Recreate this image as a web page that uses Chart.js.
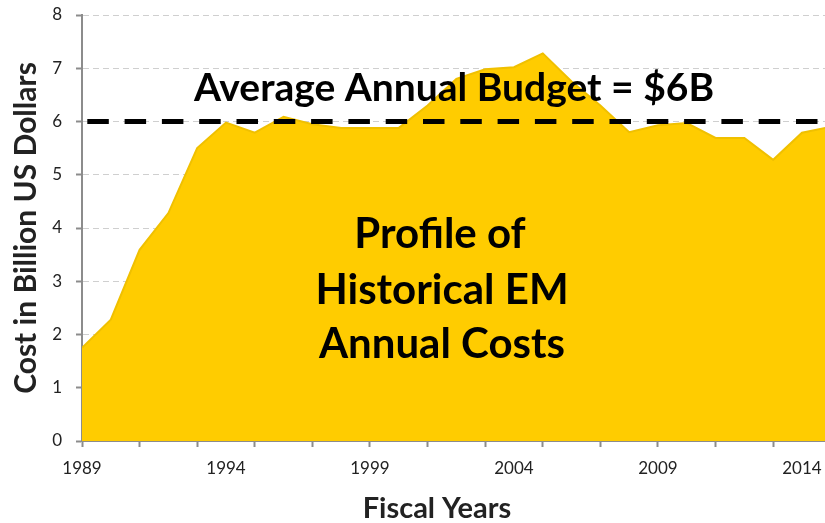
<!DOCTYPE html>
<html>
<head>
<meta charset="utf-8">
<script src="https://cdn.jsdelivr.net/npm/chart.js@4.4.1/dist/chart.umd.min.js"></script>
<style>
  html, body { margin: 0; padding: 0; background: #fff; }
  #wrap { width: 825px; height: 523px; }
</style>
</head>
<body>
<div id="wrap"><canvas id="em-chart" width="825" height="523"></canvas></div>
<script>
const years = [1989, 1990, 1991, 1992, 1993, 1994, 1995, 1996, 1997, 1998, 1999, 2000, 2001, 2002,
  2003, 2004, 2005, 2006, 2007, 2008, 2009, 2010, 2011, 2012, 2013, 2014, 2015];
const costs = [1.75, 2.28, 3.59, 4.28, 5.50, 5.98, 5.79, 6.09, 5.95, 5.88, 5.88, 5.88, 6.30, 6.80,
  6.98, 7.02, 7.28, 6.75, 6.30, 5.80, 5.93, 5.97, 5.69, 5.69, 5.28, 5.79, 5.90];
const averageBudget = 6;
const yTicks = [0, 1, 2, 3, 4, 5, 6, 7, 8];
const xLabelYears = [1989, 1994, 1999, 2004, 2009, 2014];

const FONT = 'Lato, "Open Sans", sans-serif';

// textos dentro do gráfico + título do eixo x (um pouco à esquerda do centro, como no original)
const notesPlugin = {
  id: 'notes',
  afterDraw(chart) {
    const c = chart.ctx;
    c.save();
    c.fillStyle = '#000';
    c.textAlign = 'center';
    c.textBaseline = 'alphabetic';
    c.font = 'bold 39px ' + FONT;
    c.fillText('Average Annual Budget = $6B', 454, 101);
    c.font = 'bold 42px ' + FONT;
    c.fillText('Profile of', 440, 248);
    c.fillText('Historical EM', 442, 304);
    c.fillText('Annual Costs', 442, 358);
    c.fillStyle = '#222';
    c.font = 'bold 29px ' + FONT;
    c.fillText('Fiscal Years', 437, 518);
    c.restore();
  }
};

const ctx = document.getElementById('em-chart').getContext('2d');
new Chart(ctx, {
  type: 'line',
  data: {
    datasets: [
      {
        label: 'Average Annual Budget',
        data: [years[0], years[years.length - 1]].map(x => ({ x: x, y: averageBudget })),
        borderColor: '#000',
        borderWidth: 5,
        borderDash: [21.5, 15.8],
        borderDashOffset: 32,
        pointRadius: 0,
        fill: false,
        order: 0
      },
      {
        label: 'Annual Costs',
        data: years.map((y, i) => ({ x: y, y: costs[i] })),
        borderColor: '#f0c000',
        borderWidth: 2,
        backgroundColor: '#ffcc00',
        fill: 'origin',
        pointRadius: 0,
        tension: 0,
        order: 1
      }
    ]
  },
  options: {
    responsive: false,
    animation: false,
    layout: { padding: { top: 15, right: 0, left: 0, bottom: 0 } },
    plugins: {
      legend: { display: false },
      tooltip: { enabled: false }
    },
    scales: {
      x: {
        type: 'linear',
        min: 1989,
        max: 2014.8,
        afterBuildTicks: (scale) => {
          scale.ticks = years.filter(y => y <= 2014).map(y => ({ value: y }));
        },
        afterFit: (scale) => {
          scale.height = 82;
          scale.paddingLeft = 0;
          scale.paddingRight = 0;
        },
        border: { display: true, color: '#8c8c8c', width: 2 },
        grid: {
          drawOnChartArea: false,
          tickLength: 6,
          tickWidth: 2,
          tickColor: (c) => ((c.tick && (c.tick.value - 1989) % 2 === 0) ? '#8c8c8c' : 'rgba(0,0,0,0)')
        },
        ticks: {
          autoSkip: false,
          maxRotation: 0,
          padding: 11,
          color: '#222',
          font: { family: FONT, size: 17 },
          callback: (v) => (xLabelYears.includes(v) ? String(v) : '')
        },
        title: { display: false }
      },
      y: {
        min: 0,
        max: 8,
        afterBuildTicks: (scale) => {
          scale.ticks = yTicks.map(v => ({ value: v }));
        },
        afterFit: (scale) => {
          scale.width = 82;
          scale.paddingTop = 0;
          scale.paddingBottom = 0;
        },
        border: { display: true, color: '#8c8c8c', width: 2, dash: [6, 4] },
        grid: {
          color: (c) => (c.tick && c.tick.value === 0 ? 'rgba(0,0,0,0)' : '#cfcfcf'),
          tickColor: '#8c8c8c',
          tickWidth: 2,
          tickLength: 6,
          tickBorderDash: []
        },
        ticks: {
          padding: 14,
          color: '#222',
          font: { family: FONT, size: 17 }
        },
        title: {
          display: true,
          text: 'Cost in Billion US Dollars',
          color: '#222',
          font: { family: FONT, size: 30, weight: 'bold' },
          padding: { top: 8, bottom: 0 }
        }
      }
    }
  },
  plugins: [notesPlugin]
});
</script>
</body>
</html>
